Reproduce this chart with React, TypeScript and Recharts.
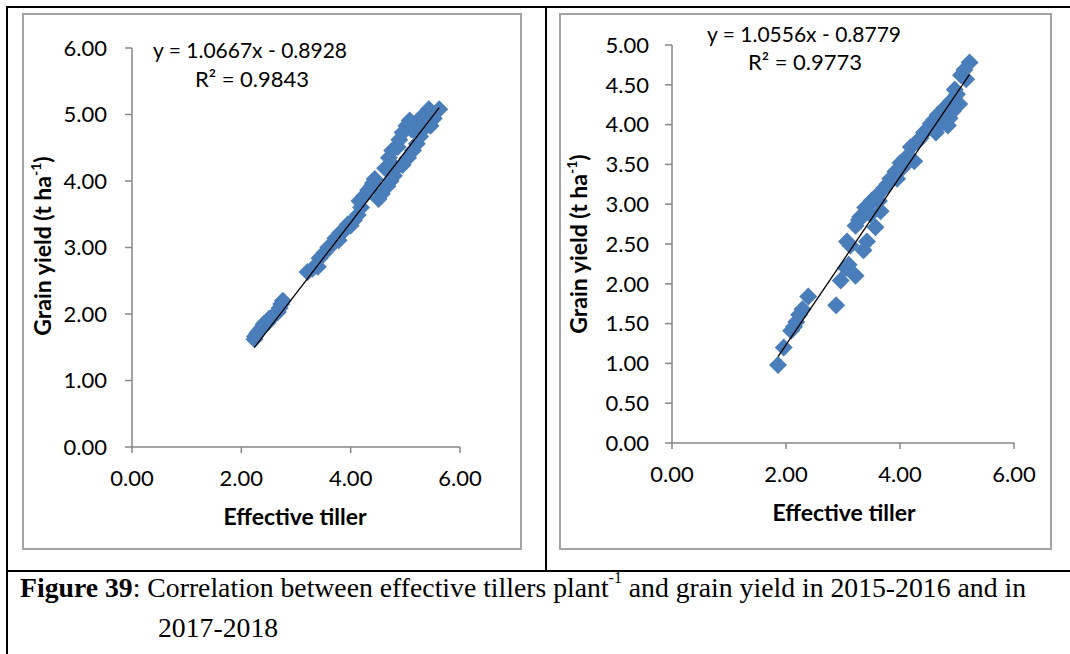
import React from 'react';
import { ScatterChart, Scatter, XAxis, YAxis } from 'recharts';

// 2015-2016
const tillers2016 = [
  2.24, 2.25, 2.29, 2.32, 2.38, 2.41, 2.48, 2.51, 2.56, 2.6, 2.67, 2.7, 2.73, 2.76,
  3.21, 3.3, 3.4, 3.43, 3.52, 3.59, 3.68, 3.72, 3.78, 3.81, 3.9, 3.95, 4.0, 4.06,
  4.13, 4.16, 4.19, 4.25, 4.32, 4.38, 4.41, 4.44, 4.51, 4.57, 4.63, 4.67, 4.7, 4.73,
  4.76, 4.79, 4.83, 4.86, 4.89, 4.95, 4.95, 5.02, 5.05, 5.08, 5.11, 5.14, 5.21, 5.21,
  5.27, 5.33, 5.33, 5.43, 5.46, 5.52, 5.62,
];
const yield2016 = [
  1.62, 1.66, 1.71, 1.74, 1.8, 1.85, 1.87, 1.93, 1.95, 1.98, 2.03, 2.09, 2.15, 2.2,
  2.63, 2.68, 2.71, 2.84, 2.92, 3.0, 3.06, 3.14, 3.11, 3.22, 3.27, 3.35, 3.33, 3.41,
  3.49, 3.7, 3.6, 3.78, 3.86, 3.92, 3.97, 4.03, 3.73, 3.81, 4.19, 3.92, 4.35, 4.0,
  4.46, 4.08, 4.19, 4.51, 4.62, 4.24, 4.73, 4.83, 4.35, 4.91, 4.78, 4.46, 4.56, 4.89,
  4.67, 4.78, 4.99, 5.08, 4.83, 4.94, 5.08,
];

// 2017-2018
const tillers2018 = [
  1.86, 1.96, 2.09, 2.14, 2.18, 2.23, 2.29, 2.39, 2.88, 2.96, 3.05, 3.07, 3.1, 3.13,
  3.22, 3.22, 3.28, 3.3, 3.36, 3.39, 3.42, 3.45, 3.48, 3.51, 3.57, 3.6, 3.63, 3.66,
  3.72, 3.78, 3.83, 3.92, 3.95, 4.01, 4.05, 4.1, 4.19, 4.25, 4.31, 4.36, 4.42, 4.48,
  4.54, 4.6, 4.63, 4.66, 4.72, 4.75, 4.78, 4.84, 4.87, 4.9, 4.93, 4.96, 5.0, 5.04,
  5.07, 5.13, 5.16, 5.22,
];
const yield2018 = [
  0.98, 1.2, 1.41, 1.46, 1.52, 1.61, 1.68, 1.84, 1.73, 2.04, 2.2, 2.53, 2.24, 2.48,
  2.1, 2.73, 2.8, 2.84, 2.42, 2.96, 2.53, 2.99, 2.87, 3.05, 2.71, 3.11, 3.04, 2.91,
  3.2, 3.25, 3.32, 3.41, 3.32, 3.52, 3.46, 3.58, 3.72, 3.54, 3.79, 3.83, 3.9, 3.94,
  4.01, 4.06, 3.9, 4.12, 4.1, 4.03, 4.21, 3.99, 4.08, 4.3, 4.17, 4.44, 4.38, 4.26,
  4.62, 4.69, 4.57, 4.78,
];

const xTicks = [0, 2, 4, 6];
const yTicks2016 = [0, 1, 2, 3, 4, 5, 6];
const yTicks2018 = [0, 0.5, 1, 1.5, 2, 2.5, 3, 3.5, 4, 4.5, 5];

// trendline coefficients shown on the charts
const fit2016 = { slope: 1.0667, intercept: -0.8928, r2: '0.9843' };
const fit2018 = { slope: 1.0556, intercept: -0.8779, r2: '0.9773' };

const toPoints = (xs: number[], ys: number[]) => xs.map((x, i) => ({ x, y: ys[i] }));

const trendPoints = (xs: number[], fit: { slope: number; intercept: number }) => {
  const lo = Math.min(...xs);
  const hi = Math.max(...xs);
  return [
    { x: lo, y: fit.slope * lo + fit.intercept },
    { x: hi, y: fit.slope * hi + fit.intercept },
  ];
};

const diamond = (r: number) => (props: any) => {
  const { cx, cy } = props;
  if (cx == null || cy == null) return <g />;
  return (
    <polygon
      points={`${cx},${cy - r} ${cx + r},${cy} ${cx},${cy + r} ${cx - r},${cy}`}
      fill="#4a7ebb"
    />
  );
};

const tickFont = { fill: '#000', fontSize: 22, fontFamily: 'Lato' };
const fmt = (v: number) => v.toFixed(2);
const sansText: React.CSSProperties = { position: 'absolute', fontFamily: 'Lato', color: '#000', whiteSpace: 'nowrap', lineHeight: 1 };
const center = 'translate(-50%, -50%)';

function Panel({ left, width, xs, ys, fit, yMax, yTicks, margin, yAxisWidth, xAxisHeight, tickGapY, tickGapX, eq, yTitle, xTitle }: any) {
  return (
    <>
      <div style={{ position: 'absolute', left, top: 13, width, height: 537, border: '2px solid #a3a3a3', boxSizing: 'border-box' }} />
      <div style={{ position: 'absolute', left, top: 13 }}>
        <ScatterChart width={width} height={537} margin={margin}>
          <XAxis
            type="number"
            dataKey="x"
            domain={[0, 6]}
            ticks={xTicks}
            tickFormatter={fmt}
            height={xAxisHeight}
            stroke="#868686"
            strokeWidth={1.5}
            tickSize={6}
            tickMargin={tickGapX}
            tick={tickFont}
            allowDataOverflow
          />
          <YAxis
            type="number"
            dataKey="y"
            domain={[0, yMax]}
            ticks={yTicks}
            tickFormatter={fmt}
            width={yAxisWidth}
            stroke="#868686"
            strokeWidth={1.5}
            tickSize={7}
            tickMargin={tickGapY}
            tick={tickFont}
            allowDataOverflow
          />
          <Scatter data={toPoints(xs, ys)} shape={diamond(9)} isAnimationActive={false} />
          <Scatter
            data={trendPoints(xs, fit)}
            line={{ stroke: '#000', strokeWidth: 1.3 }}
            shape={() => <g />}
            isAnimationActive={false}
          />
        </ScatterChart>
      </div>
      <div style={{ ...sansText, fontSize: 21, left: eq.x, top: eq.y, transform: center }}>
        y = {fit.slope}x - {Math.abs(fit.intercept)}
      </div>
      <div style={{ ...sansText, fontSize: 22, left: eq.x2, top: eq.y2, transform: center }}>
        R² = {fit.r2}
      </div>
      <div style={{ ...sansText, fontSize: 23, fontWeight: 700, left: yTitle.x, top: yTitle.y, transform: center + ' rotate(-90deg)' }}>
        Grain yield (t ha<sup style={{ fontSize: 14, verticalAlign: 'top', position: 'relative', top: -2 }}>-1</sup>)
      </div>
      <div style={{ ...sansText, fontSize: 23, fontWeight: 700, left: xTitle.x, top: xTitle.y, transform: center }}>
        Effective tiller
      </div>
    </>
  );
}

const captionStyle: React.CSSProperties = {
  position: 'absolute',
  transform: 'translateY(-50%) scaleX(0.99)',
  transformOrigin: 'left center',
  fontFamily: 'Liberation Serif',
  fontSize: 28,
  lineHeight: 1,
  whiteSpace: 'nowrap',
  color: '#000',
};

export default function App() {
  return (
    <div style={{ position: 'absolute', left: 0, top: 0, width: 1070, height: 654, background: '#fff', overflow: 'hidden' }}>
      {/* table rules */}
      <div style={{ position: 'absolute', left: 6, top: 6, width: 1064, height: 2, background: '#000' }} />
      <div style={{ position: 'absolute', left: 6, top: 6, width: 2, height: 648, background: '#000' }} />
      <div style={{ position: 'absolute', left: 545, top: 6, width: 2, height: 566, background: '#000' }} />
      <div style={{ position: 'absolute', left: 6, top: 570, width: 1064, height: 2, background: '#000' }} />

      <Panel
        left={22}
        width={500}
        xs={tillers2016}
        ys={yield2016}
        fit={fit2016}
        yMax={6}
        yTicks={yTicks2016}
        margin={{ top: 35, right: 62, bottom: 0, left: 0 }}
        yAxisWidth={110}
        xAxisHeight={103}
        tickGapY={18}
        tickGapX={17}
        eq={{ x: 250, y: 49, x2: 252, y2: 79 }}
        yTitle={{ x: 42, y: 246 }}
        xTitle={{ x: 295, y: 516 }}
      />
      <Panel
        left={559}
        width={493}
        xs={tillers2018}
        ys={yield2018}
        fit={fit2018}
        yMax={5}
        yTicks={yTicks2018}
        margin={{ top: 32, right: 38, bottom: 0, left: 0 }}
        yAxisWidth={113}
        xAxisHeight={107}
        tickGapY={16}
        tickGapX={17}
        eq={{ x: 804, y: 33, x2: 805, y2: 62 }}
        yTitle={{ x: 578, y: 244 }}
        xTitle={{ x: 844, y: 512 }}
      />

      <div style={{ ...captionStyle, left: 20, top: 588 }}>
        <b>Figure 39</b>: Correlation between effective tillers plant<sup style={{ fontSize: 16, verticalAlign: 'top', position: 'relative', top: -4 }}>-1</sup> and grain yield in 2015-2016 and in
      </div>
      <div style={{ ...captionStyle, left: 158, top: 628 }}>
        2017-2018
      </div>
    </div>
  );
}
